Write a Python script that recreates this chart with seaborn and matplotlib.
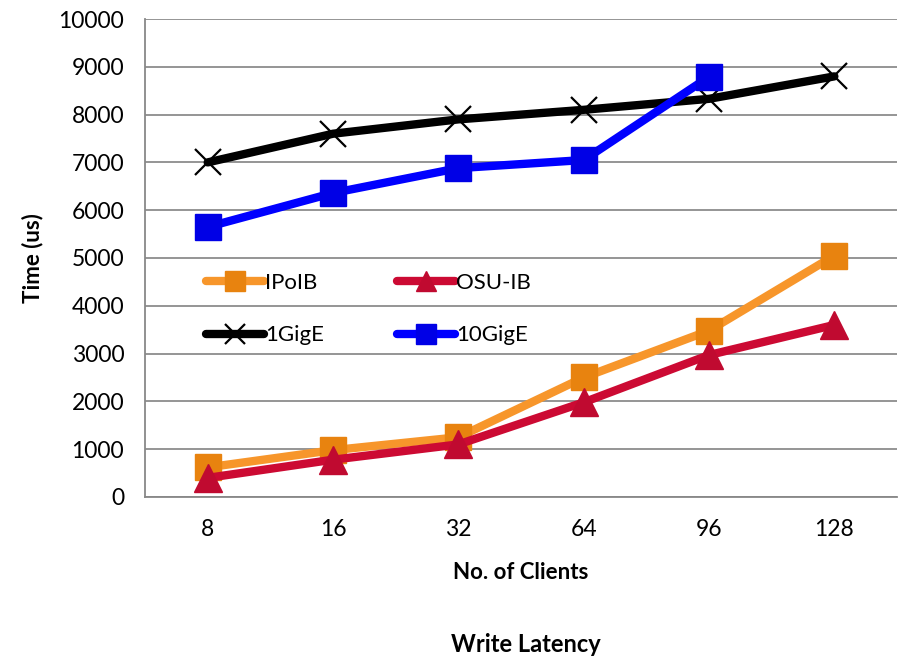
import matplotlib
matplotlib.use("Agg")
import matplotlib.pyplot as plt
import seaborn as sns
import numpy as np
import pandas as pd

clients = ["8", "16", "32", "64", "96", "128"]
ipoib = [620, 980, 1250, 2500, 3480, 5050]
osu_ib = [400, 780, 1100, 1980, 2970, 3600]
gige_1 = [7000, 7600, 7900, 8100, 8330, 8800]
gige_10 = [5650, 6360, 6880, 7050, 8790, np.nan]

sns.set_theme(style="white")
plt.rcParams["font.family"] = ["Lato", "DejaVu Sans"]
plt.rcParams["text.color"] = "black"
plt.rcParams["xtick.labelcolor"] = "black"
plt.rcParams["ytick.labelcolor"] = "black"
plt.rcParams["axes.labelcolor"] = "black"

series = [
    ("IPoIB", ipoib, "#F7962B", "s", "#E8830F", 19, 1.0),
    ("1GigE", gige_1, "#000000", "x", "#000000", 19, 1.6),
    ("OSU-IB", osu_ib, "#CC0A33", "^", "#C00A30", 20, 1.0),
    ("10GigE", gige_10, "#0000FF", "s", "#0000E6", 19, 1.0),
]

frames = []
for name, vals, *_ in series:
    frames.append(pd.DataFrame({"pos": np.arange(len(clients)), "time": vals, "series": name}))
df = pd.concat(frames, ignore_index=True)

fig = plt.figure(figsize=(9.03, 6.60), dpi=100)
ax = fig.add_axes([0.1606, 0.247, 0.8328, 0.7242])

draw_order = ["1GigE", "10GigE", "IPoIB", "OSU-IB"]
spec = {s[0]: s for s in series}
for name in draw_order:
    _, vals, color, marker, mcolor, ms, mew = spec[name]
    sub = df[df["series"] == name]
    sns.lineplot(data=sub, x="pos", y="time", ax=ax, color=color, lw=6,
                 marker=marker, markersize=ms, markerfacecolor=mcolor,
                 markeredgecolor=mcolor if marker != "x" else "#000000",
                 markeredgewidth=mew if marker == "x" else 1.0,
                 label=name, legend=False, solid_capstyle="round")

ax.set_xlim(-0.5, len(clients) - 0.5)
ax.set_ylim(0, 10000)
ax.set_yticks(np.arange(0, 10001, 1000))
ax.set_xticks(np.arange(len(clients)))
ax.set_xticklabels(clients)
ax.set_xticks(np.arange(-0.5, len(clients)), minor=True)
ax.tick_params(axis="x", which="major", length=0, pad=16, labelsize=16.5)
ax.tick_params(axis="x", which="minor", length=8, width=1.3, color="#888888", direction="out")
ax.tick_params(axis="y", length=8, width=1.3, color="#888888", direction="out", pad=7, labelsize=16.5)
ax.yaxis.grid(True, color="#8c8c8c", lw=1.3)
ax.xaxis.grid(False)
for side in ["top", "right"]:
    ax.spines[side].set_visible(False)
for side in ["left", "bottom"]:
    ax.spines[side].set_color("#888888")
    ax.spines[side].set_linewidth(1.3)
ax.set_axisbelow(True)

ax.set_xlabel("No. of Clients", fontsize=16, fontweight="bold", labelpad=16)
ax.set_ylabel("Time (us)", fontsize=16, fontweight="bold", labelpad=11)

handles, labels = ax.get_legend_handles_labels()
hmap = dict(zip(labels, handles))
order = ["IPoIB", "1GigE", "OSU-IB", "10GigE"]
ax.legend([hmap[k] for k in order], order, ncol=2, frameon=False, fontsize=16,
          loc="upper left", bbox_to_anchor=(0.055, 0.51), handlelength=2.6,
          labelspacing=1.45, columnspacing=3.3, handletextpad=0.05, markerscale=0.75)

fig.text(0.582, 0.006, "Write Latency", ha="center", va="bottom", fontsize=17, fontweight="bold")

fig.savefig("out.png", dpi=100)
